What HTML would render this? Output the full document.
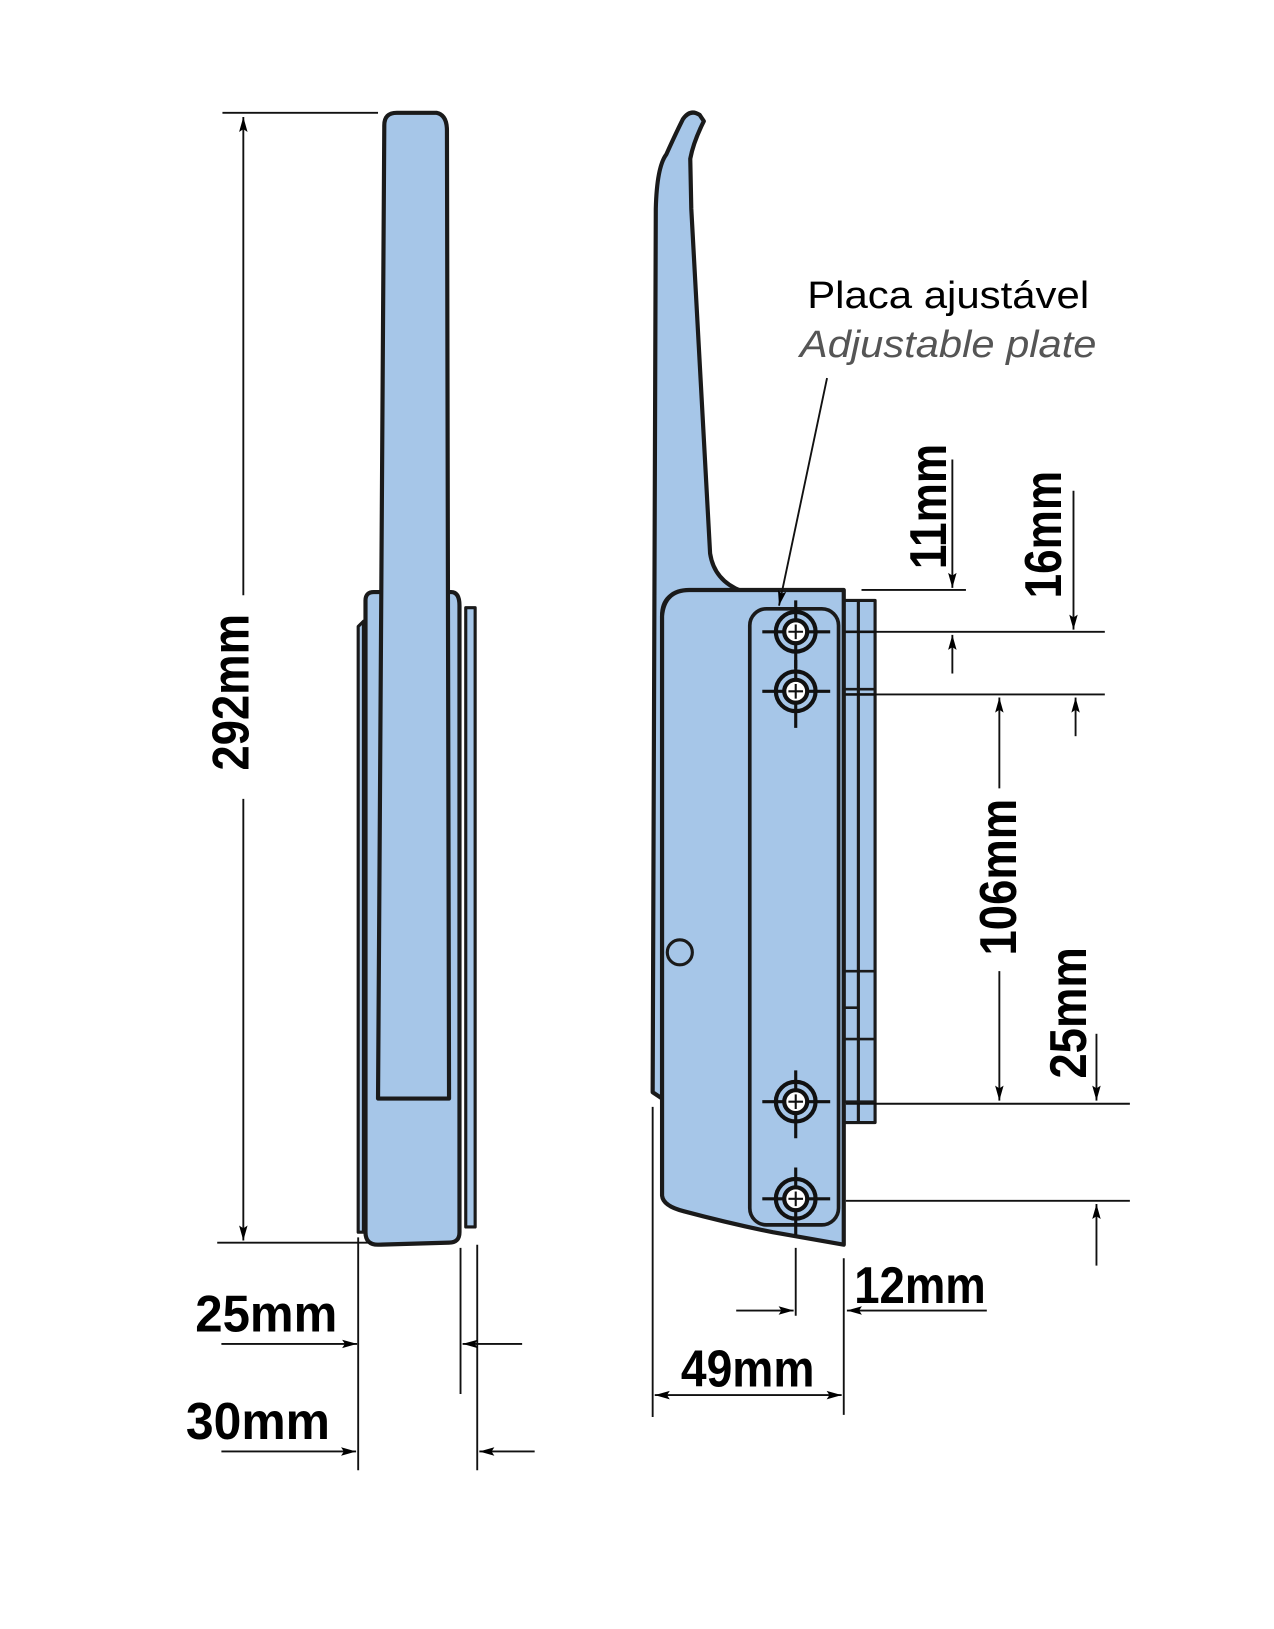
<!DOCTYPE html>
<html><head><meta charset="utf-8"><style>
html,body{margin:0;padding:0;background:#fff;}
svg{display:block;}
.b{font-family:"Liberation Sans",sans-serif;font-weight:bold;font-size:50px;fill:#000;}
</style></head><body>
<svg width="1274" height="1629" viewBox="0 0 1220 1560" xmlns="http://www.w3.org/2000/svg">
<defs>
<marker id="a" viewBox="0 0 16 10" refX="16" refY="5" markerWidth="16" markerHeight="9" orient="auto-start-reverse" markerUnits="userSpaceOnUse">
<path d="M0,0.5 L16,5 L0,9.5 L3,5 z" fill="#000"/></marker>
</defs>
<g stroke="#1a1a1a" fill="#a6c6e8" stroke-linejoin="round">
<!-- LEFT VIEW -->
<rect x="446" y="582" width="9" height="593" stroke-width="3"/>
<path d="M343,600 L348,595 L348,1180 L343,1180 z" stroke-width="3"/>
<path d="M350,575 Q350,567 358,567 L432,567 Q440,567 440,580 L440,1180 Q440,1190 430,1190 L362,1192 Q350,1192 350,1180 z" stroke-width="4"/>
<path d="M368,120 Q368,108 380,108 L418,108 Q428,110 428,125 L430,1052 L362,1052 z" stroke-width="4"/>
<!-- RIGHT VIEW -->
<rect x="808" y="575" width="30" height="500" stroke-width="3"/>
<line x1="822" y1="575" x2="822" y2="1075" stroke-width="3"/>
<g stroke-width="2.5"><line x1="808" y1="605" x2="838" y2="605"/><line x1="808" y1="660" x2="838" y2="660"/><line x1="808" y1="665" x2="838" y2="665"/><line x1="808" y1="930" x2="838" y2="930"/><line x1="808" y1="965" x2="822" y2="965"/><line x1="808" y1="995" x2="838" y2="995"/><line x1="808" y1="1055" x2="838" y2="1055"/></g>
<path d="M638,148 Q647,128 654,114 Q661,104 670,110 L674,116 Q664,136 661,152 L662,200 L680,530 Q684,556 710,566 L660,566 Q634,566 634,590 L634,1052 L625,1046 L628,200 Q629,160 638,148 z" stroke-width="4"/>
<path d="M660,565 L808,565 L808,1192 L740,1180 Q700,1172 655,1160 Q635,1155 634,1145 L634,590 Q636,565 660,565 z" stroke-width="4"/>
<rect x="718" y="583" width="85" height="590" rx="16" stroke-width="3.5"/>
<circle cx="651" cy="912" r="12" stroke-width="3"/>
</g>
<g stroke="#111" fill="none">
<g id="h"><line x1="762" y1="575" x2="762" y2="640" stroke-width="3"/><line x1="730" y1="605" x2="795" y2="605" stroke-width="3"/><circle cx="762" cy="605" r="19" stroke-width="4"/><circle cx="762" cy="605" r="11" stroke-width="4" fill="#fff"/></g>
<use href="#h" y="57"/><use href="#h" y="450"/><use href="#h" y="543"/>
</g>
<g fill="#fff">
<circle cx="762" cy="605" r="8"/><circle cx="762" cy="662" r="8"/><circle cx="762" cy="1055" r="8"/><circle cx="762" cy="1148" r="8"/>
</g>
<g stroke="#111" stroke-width="2"><path d="M755,605h14M762,598v14M755,662h14M762,655v14M755,1055h14M762,1048v14M755,1148h14M762,1141v14"/></g>
<!-- dimension lines -->
<g stroke="#111" stroke-width="1.8" fill="none">
<line x1="213" y1="108" x2="362" y2="108"/>
<line x1="208" y1="1190" x2="356" y2="1190"/>
<line x1="233" y1="112" x2="233" y2="570" marker-start="url(#a)"/>
<line x1="233" y1="765" x2="233" y2="1188" marker-end="url(#a)"/>
<line x1="343" y1="1185" x2="343" y2="1408"/>
<line x1="212" y1="1287" x2="342" y2="1287" marker-end="url(#a)"/>
<line x1="212" y1="1390" x2="341" y2="1390" marker-end="url(#a)"/>
<line x1="441" y1="1195" x2="441" y2="1335"/>
<line x1="457" y1="1192" x2="457" y2="1408"/>
<line x1="500" y1="1287" x2="443" y2="1287" marker-end="url(#a)"/>
<line x1="512" y1="1390" x2="459" y2="1390" marker-end="url(#a)"/>
<line x1="792" y1="362" x2="746" y2="580" marker-end="url(#a)"/>
<line x1="825" y1="565" x2="925" y2="565"/>
<line x1="912" y1="440" x2="912" y2="563" marker-end="url(#a)"/>
<line x1="912" y1="645" x2="912" y2="608" marker-end="url(#a)"/>
<line x1="810" y1="605" x2="1058" y2="605"/>
<line x1="1028" y1="470" x2="1028" y2="603" marker-end="url(#a)"/>
<line x1="810" y1="665" x2="1058" y2="665"/>
<line x1="1030" y1="705" x2="1030" y2="668" marker-end="url(#a)"/>
<line x1="957" y1="755" x2="957" y2="668" marker-end="url(#a)"/>
<line x1="957" y1="930" x2="957" y2="1054" marker-end="url(#a)"/>
<line x1="810" y1="1057" x2="1082" y2="1057"/>
<line x1="1050" y1="990" x2="1050" y2="1054" marker-end="url(#a)"/>
<line x1="810" y1="1150" x2="1082" y2="1150"/>
<line x1="1050" y1="1212" x2="1050" y2="1153" marker-end="url(#a)"/>
<line x1="808" y1="1205" x2="808" y2="1355"/>
<line x1="625" y1="1060" x2="625" y2="1357"/>
<line x1="762" y1="1195" x2="762" y2="1260"/>
<line x1="705" y1="1255" x2="760" y2="1255" marker-end="url(#a)"/>
<line x1="945" y1="1255" x2="811" y2="1255" marker-end="url(#a)"/>
<line x1="627" y1="1336" x2="806" y2="1336" marker-start="url(#a)" marker-end="url(#a)"/>
</g>
<!-- texts -->
<text class="b" transform="translate(238,663) rotate(-90)" text-anchor="middle" textLength="150" lengthAdjust="spacingAndGlyphs">292mm</text>
<text class="b" x="187" y="1275" textLength="136" lengthAdjust="spacingAndGlyphs">25mm</text>
<text class="b" x="178" y="1378" textLength="138" lengthAdjust="spacingAndGlyphs">30mm</text>
<text class="b" x="652" y="1328" textLength="128" lengthAdjust="spacingAndGlyphs">49mm</text>
<text class="b" x="818" y="1248" textLength="126" lengthAdjust="spacingAndGlyphs">12mm</text>
<text class="b" transform="translate(906,485) rotate(-90)" text-anchor="middle" textLength="120" lengthAdjust="spacingAndGlyphs">11mm</text>
<text class="b" transform="translate(1016,512) rotate(-90)" text-anchor="middle" textLength="122" lengthAdjust="spacingAndGlyphs">16mm</text>
<text class="b" transform="translate(973,840) rotate(-90)" text-anchor="middle" textLength="150" lengthAdjust="spacingAndGlyphs">106mm</text>
<text class="b" transform="translate(1040,970) rotate(-90)" text-anchor="middle" textLength="126" lengthAdjust="spacingAndGlyphs">25mm</text>
<text x="908" y="295" text-anchor="middle" font-family="Liberation Sans,sans-serif" font-size="36" fill="#000" textLength="270" lengthAdjust="spacingAndGlyphs">Placa ajustável</text>
<text x="908" y="342" text-anchor="middle" font-family="Liberation Sans,sans-serif" font-style="italic" font-size="36" fill="#555" textLength="284" lengthAdjust="spacingAndGlyphs">Adjustable plate</text>
</svg>
</body></html>
